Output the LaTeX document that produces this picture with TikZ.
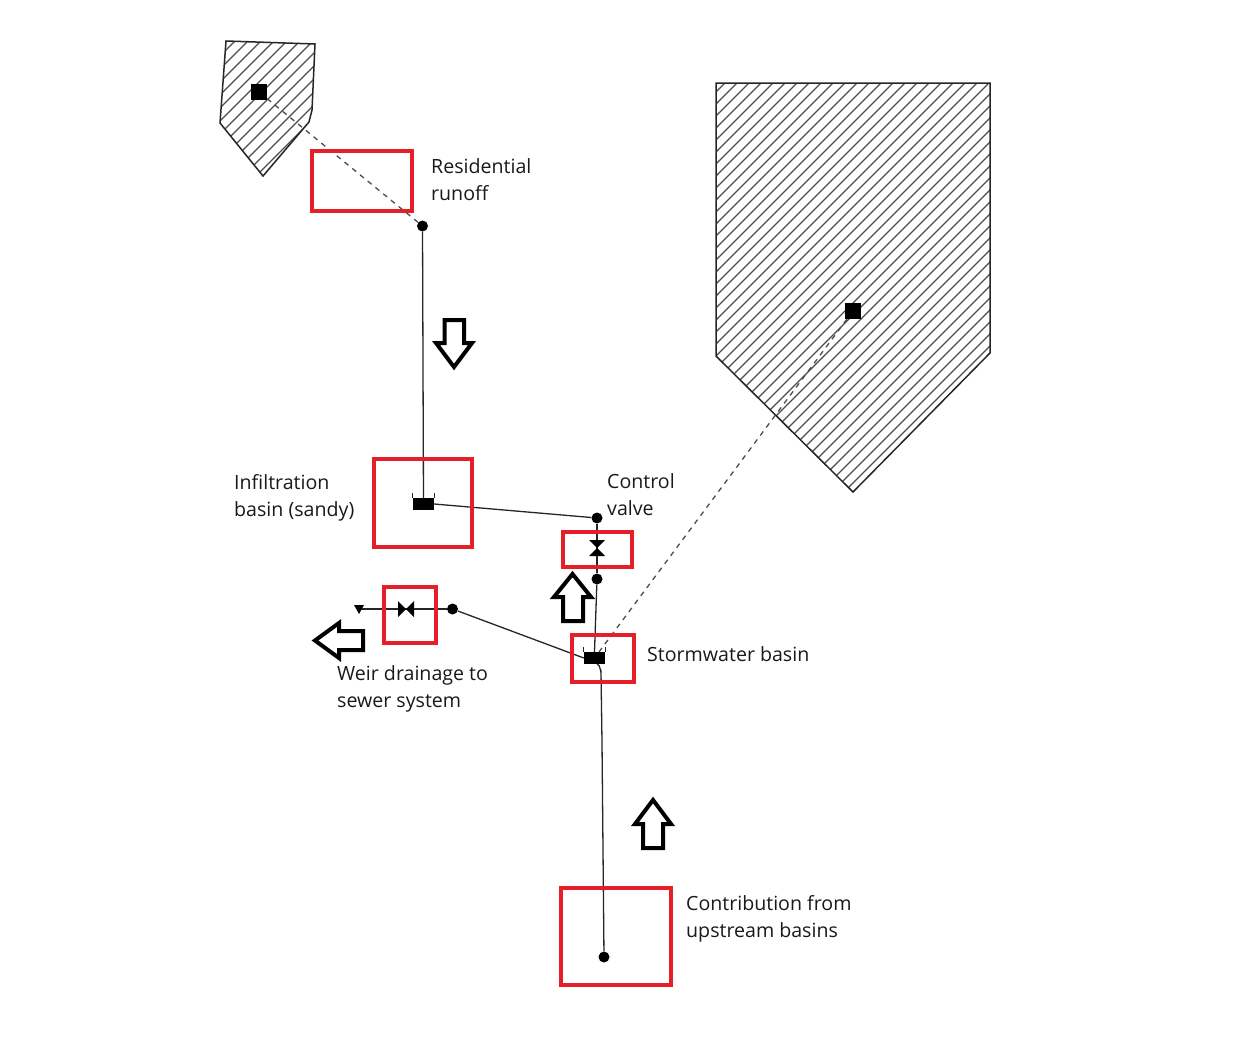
\documentclass[tikz,border=0pt]{standalone}
\usepackage{fontspec}
\setmainfont{Open Sans}
\begin{document}
\begin{tikzpicture}[x=1pt,y=-1pt,
  hatchline/.style={draw=black!70,line width=1.1pt},
  outline/.style={draw=black!85,line width=1.5pt},
  pipe/.style={draw=black!85,line width=1.3pt},
  dashpipe/.style={draw=black!70,line width=1.3pt,dash pattern=on 5pt off 5pt},
  junction/.style={circle,fill=black,draw=none,minimum size=11pt,inner sep=0pt},
  outletsq/.style={rectangle,fill=black,draw=none,minimum size=16pt,inner sep=0pt},
  basinbox/.style={rectangle,fill=black,draw=none,minimum width=21pt,minimum height=12pt,inner sep=0pt},
  redbox/.style={draw={rgb,255:red,230;green,30;blue,40},line width=4pt},
  blockarrow/.style={draw=black,line width=4pt,fill=white,line join=miter},
  lbl/.style={align=left,anchor=north west,inner sep=0pt,font=\fontsize{19.6}{27}\selectfont,text=black!90}
]
\useasboundingbox (0,0) rectangle (1251,1060);
% catchments
\begin{scope}
  \clip (716,83) -- (990,83) -- (990,353) -- (853,492) -- (716,356) -- cycle;
  \foreach \k in {796,808,...,1490}
    \draw[hatchline] (\k,0) -- (0,\k);
\end{scope}
\draw[outline] (716,83) -- (990,83) -- (990,353) -- (853,492) -- (716,356) -- cycle;
\begin{scope}
  \clip (226,41) -- (315,44) -- (312,110) -- (309,122) -- (263,176) -- (220,123) -- cycle;
  \foreach \k in {250,263,...,480}
    \draw[hatchline] (\k,0) -- (0,\k);
\end{scope}
\draw[outline] (226,41) -- (315,44) -- (312,110) -- (309,122) -- (263,176) -- (220,123) -- cycle;
% nodes
\node[outletsq] (subA) at (259,92) {};
\node[outletsq] (subB) at (853,311) {};
\node[junction] (jRes) at (422.5,226) {};
\node[basinbox] (infil) at (423.5,504) {};
\node[basinbox] (storm) at (594.5,658) {};
\node[junction] (jTop) at (597,518) {};
\node[junction] (jMid) at (597,579) {};
\node[junction] (jWeir) at (452.5,609) {};
\node[junction] (jUp) at (604,957) {};
\coordinate (vValve) at (597,548);
\coordinate (vWeir) at (406,609);
\coordinate (outfall) at (359,609);
\coordinate (bendA) at (601,672);
\coordinate (bendB) at (602,742);
\coordinate (stormOut) at (597,664);
% basin ears
\draw[pipe] (infil.north west) -- ++(0,-5) (infil.north east) -- ++(0,-5);
\draw[pipe] (storm.north west) -- ++(0,-5) (storm.north east) -- ++(0,-5);
% connectors
\draw[dashpipe] (subA) -- (jRes);
\draw[dashpipe] (subB) -- (storm);
\draw[pipe] (jRes) -- (infil);
\draw[pipe] (infil.east) -- (jTop);
\draw[pipe] (jTop) -- (jMid);
\draw[pipe] (jMid) -- (storm.north);
\draw[pipe] (jWeir) -- (storm.west);
\draw[pipe] (jWeir) -- (outfall);
\draw[pipe] (jUp) -- (bendB) -- (bendA) to[out=-90,in=0] (stormOut);
% valves
\fill (vValve) -- ++(-8,-8) -- ++(16,0) -- cycle;
\fill (vValve) -- ++(-8,8) -- ++(16,0) -- cycle;
\fill (vWeir) -- ++(-8,-8) -- ++(0,16) -- cycle;
\fill (vWeir) -- ++(8,-8) -- ++(0,16) -- cycle;
\fill (outfall) ++(-5,-4) -- ++(10,0) -- ++(-5,9) -- cycle;
% red boxes
\draw[redbox] (311.5,150.5) rectangle (412,211);
\draw[redbox] (374,459) rectangle (472,547);
\draw[redbox] (563,532) rectangle (632,567);
\draw[redbox] (384,587) rectangle (436,643);
\draw[redbox] (572,635) rectangle (634,682);
\draw[redbox] (561,888) rectangle (671,985);
% block arrows
\draw[blockarrow] (444.5,320) -- (464,320) -- (464,343) -- (472,343) -- (454,367) -- (436,343) -- (444.5,343) -- cycle;
\draw[blockarrow] (643,848) -- (663,848) -- (663,824) -- (671,824) -- (653,800) -- (635,824) -- (643,824) -- cycle;
\draw[blockarrow] (563,621) -- (583,621) -- (583,597) -- (591,597) -- (572.5,574) -- (554,597) -- (563,597) -- cycle;
\draw[blockarrow] (363,631) -- (363,650) -- (339,650) -- (339,658) -- (315,640.5) -- (339,623) -- (339,631) -- cycle;
% labels
\node[lbl] (tRes) at (431,158) {Residential\\runoff};
\node[lbl] (tInf) at (234,474) {Infiltration\\basin (sandy)};
\node[lbl] (tCtl) at (607,473) {Control\\valve};
\node[lbl] (tStm) at (647,646) {Stormwater basin};
\node[lbl] (tWeir) at (337,665) {Weir drainage to\\sewer system};
\node[lbl] (tUp) at (686,895) {Contribution from\\upstream basins};
\end{tikzpicture}
\end{document}
